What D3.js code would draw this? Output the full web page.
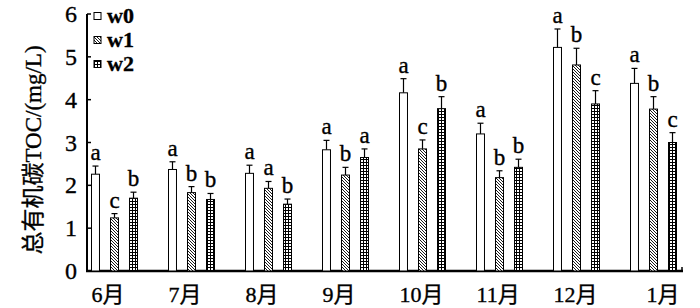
<!DOCTYPE html>
<html>
<head>
<script src="https://cdn.jsdelivr.net/npm/d3@7"></script>
<style>
  body { margin: 0; background: #fff; }
  text { font-family: "Liberation Serif", "Noto Sans CJK SC", serif; stroke: #000; stroke-width: 0.35px; }
</style>
</head>
<body>
<div id="chart"></div>
<script>
var months = ["6月","7月","8月","9月","10月","11月","12月","1月"]
var series = ["w0","w1","w2"]
var w0 = [2.26, 2.37, 2.28, 2.83, 4.16, 3.20, 5.22, 4.38]
var w1 = [1.24, 1.83, 1.93, 2.24, 2.85, 2.18, 4.81, 3.78]
var w2 = [1.70, 1.67, 1.56, 2.65, 3.79, 2.42, 3.90, 3.00]
var e0 = [0.19, 0.18, 0.19, 0.22, 0.33, 0.25, 0.43, 0.35]
var e1 = [0.10, 0.14, 0.16, 0.18, 0.21, 0.16, 0.39, 0.29]
var e2 = [0.14, 0.14, 0.12, 0.20, 0.28, 0.19, 0.31, 0.23]
var l0 = ["a","a","a","a","a","a","a","a"]
var l1 = ["c","b","a","b","c","b","b","b"]
var l2 = ["b","b","b","a","b","b","c","c"]
var yTicks = [0,1,2,3,4,5,6]

var vals = [w0,w1,w2], errs = [e0,e1,e2], lets = [l0,l1,l2]

var svg = d3.select("#chart").append("svg")
    .attr("width",700).attr("height",308)

var defs = svg.append("defs")
var hatch = defs.append("pattern").attr("id","hatch")
    .attr("patternUnits","userSpaceOnUse").attr("width",3).attr("height",3)
hatch.append("rect").attr("width",3).attr("height",3).attr("fill","#fff")
hatch.append("path").attr("d","M0,0L3,3M-1,2L1,4M2,-1L4,1")
    .attr("stroke","#000").attr("stroke-width",0.9)
var grid = defs.append("pattern").attr("id","grid")
    .attr("patternUnits","userSpaceOnUse").attr("width",3).attr("height",3)
grid.append("rect").attr("width",3).attr("height",3).attr("fill","#fff")
grid.append("path").attr("d","M0,0.5H3M0.5,0V3")
    .attr("stroke","#000").attr("stroke-width",1)
var fills = ["#fff","url(#hatch)","url(#grid)"]

var x = d3.scaleBand().domain(months).range([76,692])
var x1 = d3.scaleBand().domain(series).range([0,46]).paddingInner(0.58).paddingOuter(0)
var y = d3.scaleLinear().domain([0,6]).range([271,14])
var off = (x.bandwidth()-46)/2

// axes
svg.append("line").attr("x1",87).attr("x2",87).attr("y1",y(6)).attr("y2",y(0)+1)
    .attr("stroke","#000").attr("stroke-width",2)
svg.append("line").attr("x1",86).attr("x2",683).attr("y1",y(0)).attr("y2",y(0))
    .attr("stroke","#000").attr("stroke-width",2.5)
svg.append("line").attr("x1",682).attr("x2",682).attr("y1",y(0)).attr("y2",y(0)-4)
    .attr("stroke","#000").attr("stroke-width",1.5)
svg.selectAll(".ytick").data(yTicks).enter().append("line")
    .attr("x1",87).attr("x2",91).attr("y1",d=>y(d)).attr("y2",d=>y(d))
    .attr("stroke","#000").attr("stroke-width",1.5)
svg.selectAll(".ylab").data(yTicks).enter().append("text")
    .attr("x",77).attr("y",d=>y(d)).attr("dy","0.34em")
    .attr("text-anchor","end").attr("font-size",24).text(d=>d)

svg.append("text").attr("transform","translate(41,150) rotate(-90)")
    .attr("text-anchor","middle").attr("font-size",23)
    .text("总有机碳TOC/(mg/L)")

svg.selectAll(".mlab").data(months).enter().append("text")
    .attr("x",(d,i)=> i==months.length-1 ? x(d)+off+16 : x(d)+off)
    .attr("y",302).attr("font-size",22).text(d=>d)

series.forEach(function(s,k){
    var g = svg.append("g")
    months.forEach(function(m,i){
        var bx = x(m)+off+x1(s), bw = x1.bandwidth()
        var top = y(vals[k][i]+errs[k][i])
        g.append("line").attr("x1",bx+bw/2).attr("x2",bx+bw/2)
            .attr("y1",y(vals[k][i])).attr("y2",top).attr("stroke","#000").attr("stroke-width",1.2)
        g.append("line").attr("x1",bx+bw/2-3).attr("x2",bx+bw/2+3)
            .attr("y1",top).attr("y2",top).attr("stroke","#000").attr("stroke-width",1.2)
        g.append("rect").attr("x",bx).attr("y",y(vals[k][i]))
            .attr("width",bw).attr("height",y(0)-y(vals[k][i]))
            .attr("fill",fills[k]).attr("stroke","#000").attr("stroke-width",1)
        g.append("text").attr("x",bx+bw/2).attr("y",top-6)
            .attr("text-anchor","middle").attr("font-size",23).text(lets[k][i])
    })
})

// legend
var leg = svg.selectAll(".leg").data(series).enter().append("g")
    .attr("transform",(d,i)=>"translate(94,"+(16+i*24)+")")
leg.append("rect").attr("x",0).attr("y",-3.5).attr("width",7).attr("height",7)
    .attr("fill",(d,i)=>fills[i]).attr("stroke","#000").attr("stroke-width",1)
leg.append("text").attr("x",13).attr("y",0).attr("dy","0.34em")
    .attr("font-size",22).attr("font-weight","bold").text(d=>d)
</script>
</body>
</html>
